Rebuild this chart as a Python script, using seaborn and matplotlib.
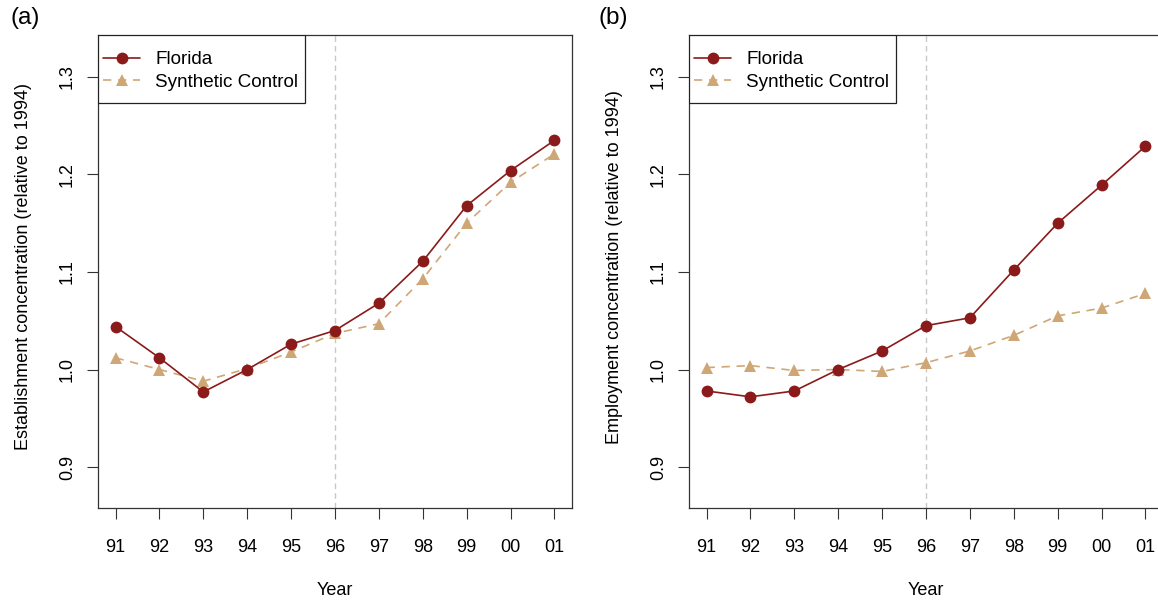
import numpy as np
import pandas as pd
import matplotlib
matplotlib.use("Agg")
import matplotlib.pyplot as plt
import matplotlib.patches as mpatches
import seaborn as sns

# ── Data ────────────────────────────────────────────────────────────────────
years = [1991, 1992, 1993, 1994, 1995, 1996, 1997, 1998, 1999, 2000, 2001]
year_labels = ["91", "92", "93", "94", "95", "96", "97", "98", "99", "00", "01"]

est_florida = [1.044, 1.012, 0.977, 1.000, 1.026, 1.040, 1.068, 1.111, 1.168, 1.204, 1.235]
est_synth   = [1.012, 1.000, 0.988, 1.001, 1.018, 1.037, 1.047, 1.093, 1.150, 1.192, 1.221]

emp_florida = [0.978, 0.972, 0.978, 1.000, 1.019, 1.045, 1.053, 1.102, 1.150, 1.189, 1.229]
emp_synth   = [1.002, 1.004, 0.999, 1.000, 0.998, 1.007, 1.019, 1.035, 1.055, 1.063, 1.078]

y_ticks = [0.9, 1.0, 1.1, 1.2, 1.3]
treat_year = 1996

FLORIDA_COL = "#8B1A1A"
SYNTH_COL = "#CFA777"

# ── Style ───────────────────────────────────────────────────────────────────
sns.set_theme(style="white")
plt.rcParams["font.family"] = ["Liberation Sans", "DejaVu Sans"]
for k in ["text.color", "axes.labelcolor", "xtick.labelcolor", "ytick.labelcolor"]:
    plt.rcParams[k] = "black"
FS = 13

fig = plt.figure(figsize=(11.58, 6.02), dpi=100)
W, H = 1158, 602
AX_W, AX_H = 474, 473


def panel(left_px, florida, synth, ylabel, tag, tag_x):
    ax = fig.add_axes([left_px / W, (H - 508) / H, AX_W / W, AX_H / H])
    df = pd.DataFrame({"year": years, "Florida": florida, "Synthetic Control": synth})

    ax.axvline(treat_year, color="#c8c8c8", lw=1.0, ls=(0, (4, 3)), zorder=1)
    sns.lineplot(data=df, x="year", y="Florida", ax=ax, color=FLORIDA_COL,
                 marker="o", markersize=8.5, markeredgewidth=0, lw=1.2,
                 label="Florida", zorder=3)
    sns.lineplot(data=df, x="year", y="Synthetic Control", ax=ax, color=SYNTH_COL,
                 marker="^", markersize=9, markeredgewidth=0, lw=1.2,
                 linestyle=(0, (5, 4)), label="Synthetic Control", zorder=2)

    ax.set_xlim(years[0] - 0.4, years[-1] + 0.4)
    ax.set_ylim(0.858, 1.343)
    ax.set_xticks(years)
    ax.set_xticklabels(year_labels, fontsize=FS)
    ax.set_yticks(y_ticks)
    ax.set_yticklabels([f"{v:.1f}" for v in y_ticks], fontsize=FS,
                       rotation=90, va="center")
    ax.tick_params(axis="x", direction="out", length=8, width=0.8,
                   color="#333333", pad=14, bottom=True)
    ax.tick_params(axis="y", direction="out", length=8, width=0.8,
                   color="#333333", pad=8, left=True)
    for s in ax.spines.values():
        s.set_visible(True)
        s.set_color("#333333")
        s.set_linewidth(0.9)

    ax.set_xlabel("Year", fontsize=FS)
    ax.xaxis.set_label_coords(0.5, -0.156)
    ax.set_ylabel(ylabel, fontsize=FS)
    ax.yaxis.set_label_coords(-0.14, 0.51)

    # R-style legend box: drawn by hand so the vertical padding can exceed
    # the horizontal one
    ax.add_patch(mpatches.Rectangle((0, 1 - 68 / AX_H), 207 / AX_W, 68 / AX_H,
                                    transform=ax.transAxes, facecolor="white",
                                    edgecolor="#222222", lw=0.9, zorder=4))
    leg = ax.legend(loc="upper left", bbox_to_anchor=(5 / AX_W, 1 - 16 / AX_H),
                    borderaxespad=0, borderpad=0, fontsize=13.6, frameon=False,
                    handlelength=1.96, handletextpad=0.8, labelspacing=0.27,
                    numpoints=1)
    leg.set_zorder(5)

    fig.text(tag_x / W, 1 - 18 / H, tag, fontsize=17.5, va="center", ha="left")
    return ax


panel(98, est_florida, est_synth,
      "Establishment concentration (relative to 1994)", "(a)", 10)
panel(689, emp_florida, emp_synth,
      "Employment concentration (relative to 1994)", "(b)", 599)

fig.savefig("out.png", dpi=100)
